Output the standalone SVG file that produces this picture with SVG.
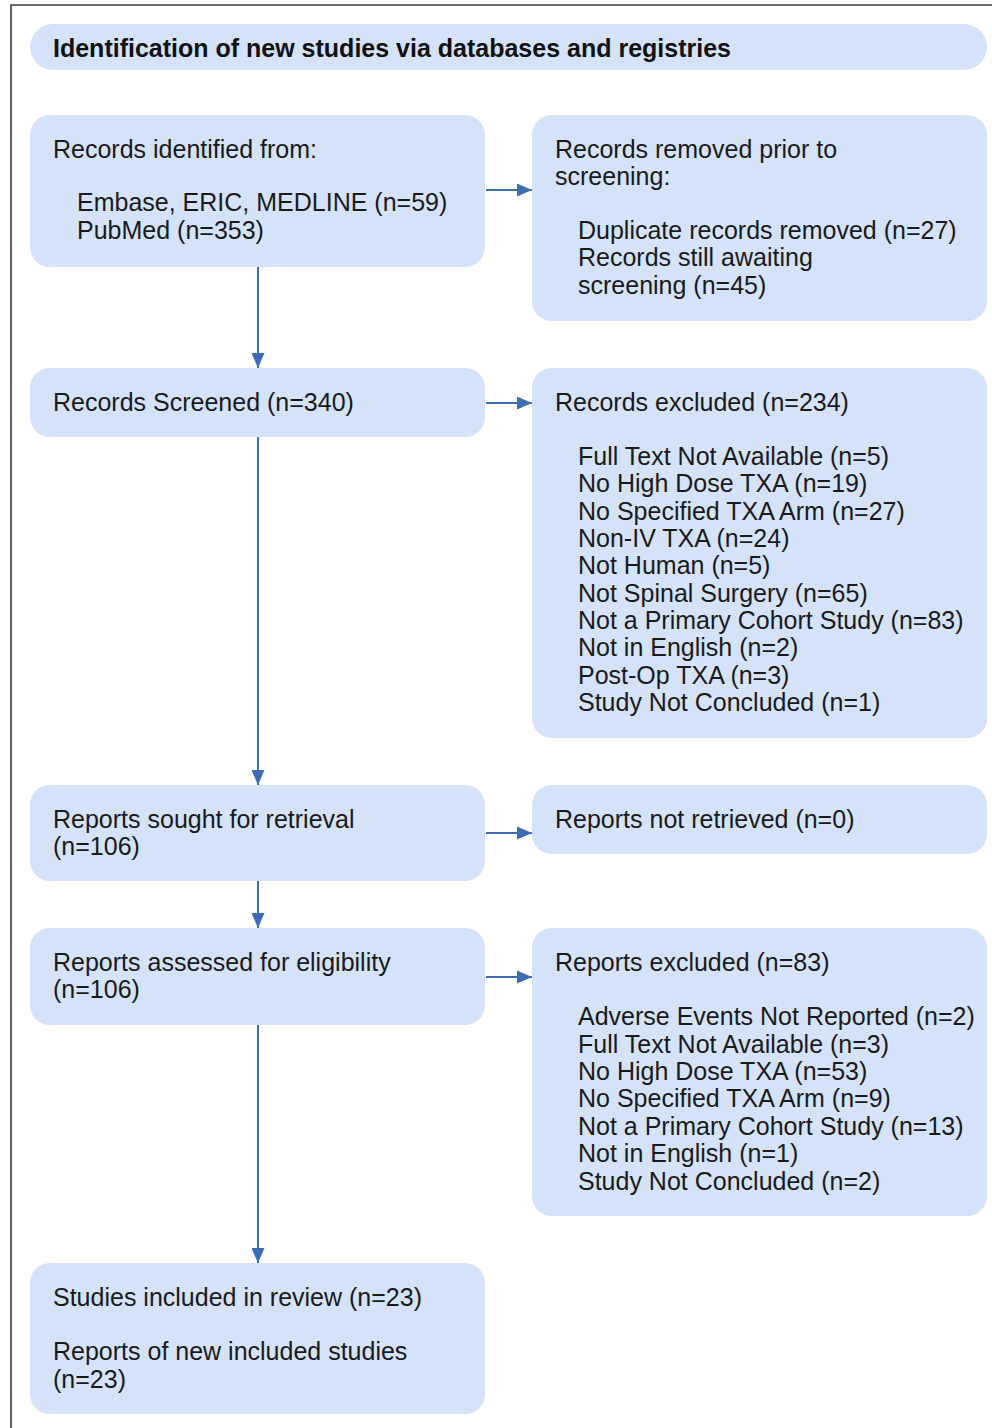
<svg xmlns="http://www.w3.org/2000/svg" width="992" height="1428" viewBox="0 0 992 1428">
<defs>
<style>
.box{fill:#d4e2fa;}
.t{font-family:"Liberation Sans",Arial,Helvetica,sans-serif;font-size:25px;fill:#1a1a1a;}
.title{font-family:"Liberation Sans",Arial,Helvetica,sans-serif;font-size:25px;font-weight:bold;fill:#111;}
.conn{stroke:#3d6cb3;stroke-width:2;fill:none;marker-end:url(#ah);}
</style>
<marker id="ah" viewBox="0 0 15 13" refX="15" refY="6.5" markerWidth="15" markerHeight="13" markerUnits="userSpaceOnUse" orient="auto">
<path d="M0,0 L15,6.5 L0,13 Z" fill="#3d6cb3"/>
</marker>
</defs>
<rect x="0" y="0" width="992" height="1428" fill="#fff"/>
<path d="M11,1428 V5 H992" fill="none" stroke="#3a3a3a" stroke-width="1.6"/>

<g id="header">
<rect class="box" x="30" y="24" width="957" height="46" rx="23"/>
<text class="title" x="53" y="57">Identification of new studies via databases and registries</text>
</g>

<g id="connectors">
<line class="conn" x1="258" y1="267" x2="258" y2="368"/>
<line class="conn" x1="258" y1="437" x2="258" y2="785"/>
<line class="conn" x1="258" y1="881" x2="258" y2="928"/>
<line class="conn" x1="258" y1="1025" x2="258" y2="1263"/>
<line class="conn" x1="486" y1="190" x2="532" y2="190"/>
<line class="conn" x1="486" y1="403" x2="532" y2="403"/>
<line class="conn" x1="486" y1="833" x2="532" y2="833"/>
<line class="conn" x1="486" y1="977" x2="532" y2="977"/>
</g>

<g id="identified">
<rect class="box" x="30" y="115" width="455" height="152" rx="20"/>
<text class="t" x="53" y="158">Records identified from:</text>
<text class="t" x="77" y="211">Embase, ERIC, MEDLINE (n=59)</text>
<text class="t" x="77" y="239">PubMed (n=353)</text>
</g>

<g id="removed">
<rect class="box" x="532" y="115" width="455" height="206" rx="20"/>
<text class="t" x="555" y="158">Records removed prior to</text>
<text class="t" x="555" y="185">screening:</text>
<text class="t" x="578" y="239">Duplicate records removed (n=27)</text>
<text class="t" x="578" y="266">Records still awaiting</text>
<text class="t" x="578" y="294">screening (n=45)</text>
</g>

<g id="screened">
<rect class="box" x="30" y="368" width="455" height="69" rx="20"/>
<text class="t" x="53" y="411">Records Screened (n=340)</text>
</g>

<g id="excluded">
<rect class="box" x="532" y="368" width="455" height="370" rx="20"/>
<text class="t" x="555" y="411">Records excluded (n=234)</text>
<text class="t" x="578" y="465">Full Text Not Available (n=5)</text>
<text class="t" x="578" y="492">No High Dose TXA (n=19)</text>
<text class="t" x="578" y="520">No Specified TXA Arm (n=27)</text>
<text class="t" x="578" y="547">Non-IV TXA (n=24)</text>
<text class="t" x="578" y="574">Not Human (n=5)</text>
<text class="t" x="578" y="602">Not Spinal Surgery (n=65)</text>
<text class="t" x="578" y="629">Not a Primary Cohort Study (n=83)</text>
<text class="t" x="578" y="656">Not in English (n=2)</text>
<text class="t" x="578" y="684">Post-Op TXA (n=3)</text>
<text class="t" x="578" y="711">Study Not Concluded (n=1)</text>
</g>

<g id="sought">
<rect class="box" x="30" y="785" width="455" height="96" rx="20"/>
<text class="t" x="53" y="828">Reports sought for retrieval</text>
<text class="t" x="53" y="855">(n=106)</text>
</g>

<g id="notretrieved">
<rect class="box" x="532" y="785" width="455" height="69" rx="20"/>
<text class="t" x="555" y="828">Reports not retrieved (n=0)</text>
</g>

<g id="assessed">
<rect class="box" x="30" y="928" width="455" height="97" rx="20"/>
<text class="t" x="53" y="971">Reports assessed for eligibility</text>
<text class="t" x="53" y="998">(n=106)</text>
</g>

<g id="reportsexcluded">
<rect class="box" x="532" y="928" width="455" height="288" rx="20"/>
<text class="t" x="555" y="971">Reports excluded (n=83)</text>
<text class="t" x="578" y="1025">Adverse Events Not Reported (n=2)</text>
<text class="t" x="578" y="1053">Full Text Not Available (n=3)</text>
<text class="t" x="578" y="1080">No High Dose TXA (n=53)</text>
<text class="t" x="578" y="1107">No Specified TXA Arm (n=9)</text>
<text class="t" x="578" y="1135">Not a Primary Cohort Study (n=13)</text>
<text class="t" x="578" y="1162">Not in English (n=1)</text>
<text class="t" x="578" y="1190">Study Not Concluded (n=2)</text>
</g>

<g id="included">
<rect class="box" x="30" y="1263" width="455" height="151" rx="20"/>
<text class="t" x="53" y="1306">Studies included in review (n=23)</text>
<text class="t" x="53" y="1360">Reports of new included studies</text>
<text class="t" x="53" y="1388">(n=23)</text>
</g>
</svg>
